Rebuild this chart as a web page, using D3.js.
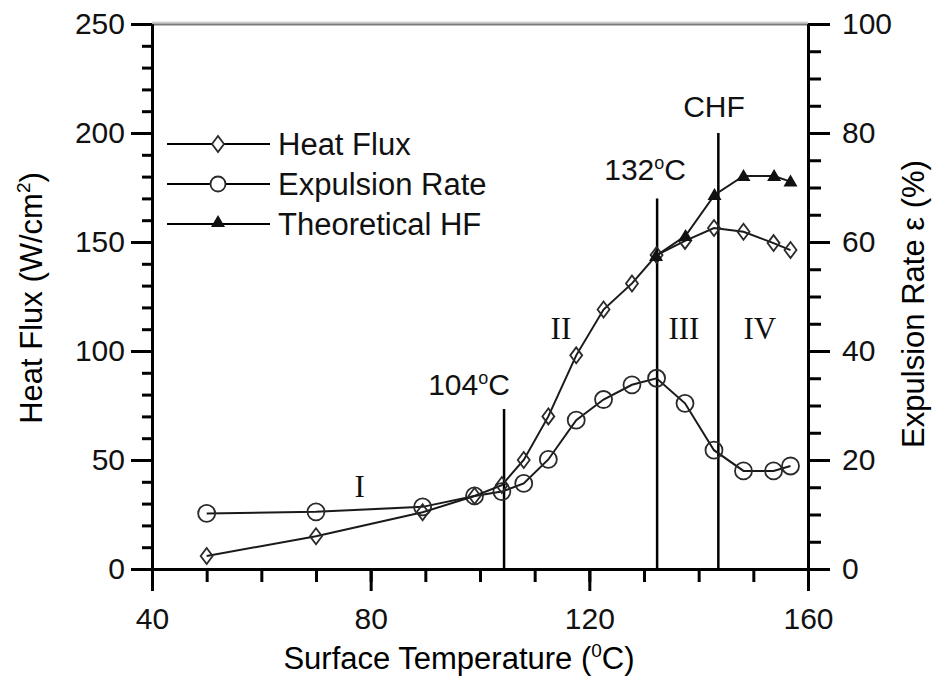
<!DOCTYPE html>
<html>
<head>
<meta charset="utf-8">
<script src="https://cdn.jsdelivr.net/npm/d3@7"></script>
<style>
  body { margin: 0; background: #fff; }
  svg { display: block; font-family: "Liberation Sans", Arial, sans-serif; }
  .axis path, .axis line { stroke: #000; stroke-width: 3; }
  .axis text { font-size: 30px; fill: #111; font-family: "Liberation Sans", Arial, sans-serif; }
  .region { font-family: "Liberation Serif", "Times New Roman", serif; font-size: 31px; fill: #111; }
  .note { font-size: 30px; fill: #111; }
</style>
</head>
<body>
<script>
var w = 935;
var h = 678;

// surface temperature (C) of the measured points
var temps = [50, 70, 89.5, 99, 104, 108, 112.5, 117.6, 122.6, 127.8, 132.3, 137.5, 142.8, 148.2, 153.7, 156.8];
// heat flux, W/cm2
var heatFlux = [6, 15, 26, 33.5, 38.5, 50, 70, 98, 119, 131, 144, 150.5, 156.4, 154.7, 149.5, 146.3];
// expulsion rate, %
var expulsion = [10.2, 10.5, 11.4, 13.4, 14.2, 15.7, 20.1, 27.3, 31.1, 33.8, 35.0, 30.4, 21.8, 18.0, 18.0, 18.9];

// theoretical heat flux
var theoTemps = [132.2, 137.6, 142.9, 148.2, 153.8, 156.8];
var theoHF = [143.6, 152.8, 171.6, 180.3, 180.3, 177.7];

var seriesNames = ["Heat Flux", "Expulsion Rate", "Theoretical HF"];

// vertical markers: temperature, top (heat flux units), label and label anchor
var markTemps = [104.4, 132.4, 143.6];
var markTops = [73.4, 170, 200];
var markLabels = [["104", "o", "C"], ["132", "o", "C"], ["CHF", "", ""]];
var markLabelT = [98, 130.2, 142.8];
var markLabelHF = [79.8, 178.4, 207.3];

// boiling regions
var regionNames = ["I", "II", "III", "IV"];
var regionT = [78, 114.8, 137.3, 151.2];
var regionHF = [33, 105.5, 105.5, 105.5];

var xTicks = [40, 80, 120, 160];
var yTicks = [0, 50, 100, 150, 200, 250];
var y2Ticks = [0, 20, 40, 60, 80, 100];

var plotL = 152, plotR = 808, plotT = 24, plotB = 569;

var svg = d3.select("body")
    .append("svg")
    .attr("width", w)
    .attr("height", h);

var xScale = d3.scaleLinear().domain([40, 160]).range([plotL, plotR]);
var yScale = d3.scaleLinear().domain([0, 250]).range([plotB, plotT]);
var y2Scale = d3.scaleLinear().domain([0, 100]).range([plotB, plotT]);

// top frame line (gray)
svg.append("line")
    .attr("x1", plotL).attr("x2", plotR)
    .attr("y1", plotT - 1.5).attr("y2", plotT - 1.5)
    .attr("stroke", "#cfcfcf").attr("stroke-width", 2);
svg.append("line")
    .attr("x1", plotL).attr("x2", plotR)
    .attr("y1", plotT + 0.5).attr("y2", plotT + 0.5)
    .attr("stroke", "#7a7a7a").attr("stroke-width", 2);

// minor ticks first
svg.append("g")
    .attr("class", "axis")
    .attr("transform", "translate(0," + plotB + ")")
    .call(d3.axisBottom(xScale).tickValues(d3.range(40, 161, 10)).tickSize(13).tickSizeOuter(0).tickFormat(""));
svg.append("g")
    .attr("class", "axis")
    .attr("transform", "translate(" + plotL + ",0)")
    .call(d3.axisLeft(yScale).tickValues(d3.range(0, 251, 10)).tickSize(10).tickSizeOuter(0).tickFormat(""));
svg.append("g")
    .attr("class", "axis")
    .attr("transform", "translate(" + plotR + ",0)")
    .call(d3.axisRight(y2Scale).tickValues(d3.range(0, 101, 5)).tickSize(13).tickSizeOuter(0).tickFormat(""));

// major ticks
svg.append("g")
    .attr("class", "axis")
    .attr("transform", "translate(0," + plotB + ")")
    .call(d3.axisBottom(xScale).tickValues(xTicks).tickSize(22).tickSizeOuter(0).tickPadding(17));
svg.append("g")
    .attr("class", "axis")
    .attr("transform", "translate(" + plotL + ",0)")
    .call(d3.axisLeft(yScale).tickValues(yTicks).tickSize(21).tickSizeOuter(0).tickPadding(6));
svg.append("g")
    .attr("class", "axis")
    .attr("transform", "translate(" + plotR + ",0)")
    .call(d3.axisRight(y2Scale).tickValues(y2Ticks).tickSize(22).tickSizeOuter(0).tickPadding(12));

// axis titles
var xt = svg.append("text")
    .attr("x", 459).attr("y", 669)
    .attr("text-anchor", "middle")
    .attr("font-size", 31);
xt.append("tspan").text("Surface Temperature (");
xt.append("tspan").attr("font-size", 19).attr("dy", -12).text("0");
xt.append("tspan").attr("dy", 12).text("C)");

var yt = svg.append("text")
    .attr("transform", "translate(31,298) rotate(-90)")
    .attr("text-anchor", "middle")
    .attr("dy", "0.35em")
    .attr("font-size", 31);
yt.append("tspan").text("Heat Flux (W/cm");
yt.append("tspan").attr("font-size", 19).attr("dy", -12).text("2");
yt.append("tspan").attr("dy", 12).text(")");

svg.append("text")
    .attr("transform", "translate(913,304) rotate(-90)")
    .attr("text-anchor", "middle")
    .attr("dy", "0.35em")
    .attr("font-size", 31)
    .text("Expulsion Rate \u03b5 (%)");

// vertical marker lines
markTemps.forEach(function(t, i) {
    svg.append("line")
        .attr("x1", xScale(t)).attr("x2", xScale(t))
        .attr("y1", yScale(markTops[i])).attr("y2", plotB)
        .attr("stroke", "#000").attr("stroke-width", 2.5);
    var lab = svg.append("text")
        .attr("class", "note")
        .attr("x", xScale(markLabelT[i]))
        .attr("y", yScale(markLabelHF[i]))
        .attr("text-anchor", "middle");
    lab.append("tspan").text(markLabels[i][0]);
    if (markLabels[i][1]) {
        lab.append("tspan").attr("font-size", 18).attr("dy", -11).text(markLabels[i][1]);
        lab.append("tspan").attr("dy", 11).text(markLabels[i][2]);
    }
});

// region labels
svg.selectAll(".region")
    .data(regionNames)
    .enter().append("text")
    .attr("class", "region")
    .attr("x", function(d, i) { return xScale(regionT[i]); })
    .attr("y", function(d, i) { return yScale(regionHF[i]); })
    .attr("text-anchor", "middle")
    .text(function(d) { return d; });

var diamond = "M0,-8L6,0L0,8L-6,0Z";
var triangle = "M0,-7L7,5L-7,5Z";

var hfData = temps.map(function(t, i) { return { t: t, v: heatFlux[i] }; });
var exData = temps.map(function(t, i) { return { t: t, v: expulsion[i] }; });
var thData = theoTemps.map(function(t, i) { return { t: t, v: theoHF[i] }; });

// expulsion rate
svg.append("path")
    .datum(exData)
    .attr("fill", "none").attr("stroke", "#1a1a1a").attr("stroke-width", 2)
    .attr("d", d3.line().x(function(d) { return xScale(d.t); }).y(function(d) { return y2Scale(d.v); }));
svg.selectAll(".ex")
    .data(exData)
    .enter().append("circle")
    .attr("class", "ex")
    .attr("cx", function(d) { return xScale(d.t); })
    .attr("cy", function(d) { return y2Scale(d.v); })
    .attr("r", 8.5)
    .attr("fill", "none").attr("stroke", "#2a2a2a").attr("stroke-width", 1.8);

// heat flux
svg.append("path")
    .datum(hfData)
    .attr("fill", "none").attr("stroke", "#1a1a1a").attr("stroke-width", 2)
    .attr("d", d3.line().x(function(d) { return xScale(d.t); }).y(function(d) { return yScale(d.v); }));
svg.selectAll(".hf")
    .data(hfData)
    .enter().append("path")
    .attr("class", "hf")
    .attr("transform", function(d) { return "translate(" + xScale(d.t) + "," + yScale(d.v) + ")"; })
    .attr("d", diamond)
    .attr("fill", "none").attr("stroke", "#2a2a2a").attr("stroke-width", 1.8);

// theoretical heat flux
svg.append("path")
    .datum(thData)
    .attr("fill", "none").attr("stroke", "#1a1a1a").attr("stroke-width", 2)
    .attr("d", d3.line().x(function(d) { return xScale(d.t); }).y(function(d) { return yScale(d.v); }));
svg.selectAll(".th")
    .data(thData)
    .enter().append("path")
    .attr("class", "th")
    .attr("transform", function(d) { return "translate(" + xScale(d.t) + "," + yScale(d.v) + ")"; })
    .attr("d", triangle)
    .attr("fill", "#111");

// legend
var legend = svg.append("g").attr("transform", "translate(167,144)");
seriesNames.forEach(function(name, i) {
    var g = legend.append("g").attr("transform", "translate(0," + i * 40 + ")");
    g.append("line")
        .attr("x1", 0).attr("x2", 103)
        .attr("stroke", "#000").attr("stroke-width", 2.2);
    if (i == 0) {
        g.append("path").attr("transform", "translate(51,0)").attr("d", diamond)
            .attr("fill", "#fff").attr("stroke", "#2a2a2a").attr("stroke-width", 1.8);
    } else if (i == 1) {
        g.append("circle").attr("cx", 51).attr("r", 7.5)
            .attr("fill", "#fff").attr("stroke", "#2a2a2a").attr("stroke-width", 1.8);
    } else {
        g.append("path").attr("transform", "translate(51,-2)").attr("d", triangle)
            .attr("fill", "#111");
    }
    g.append("text")
        .attr("x", 111)
        .attr("dy", "0.35em")
        .attr("font-size", 31)
        .attr("fill", "#111")
        .text(name);
});
</script>
</body>
</html>
